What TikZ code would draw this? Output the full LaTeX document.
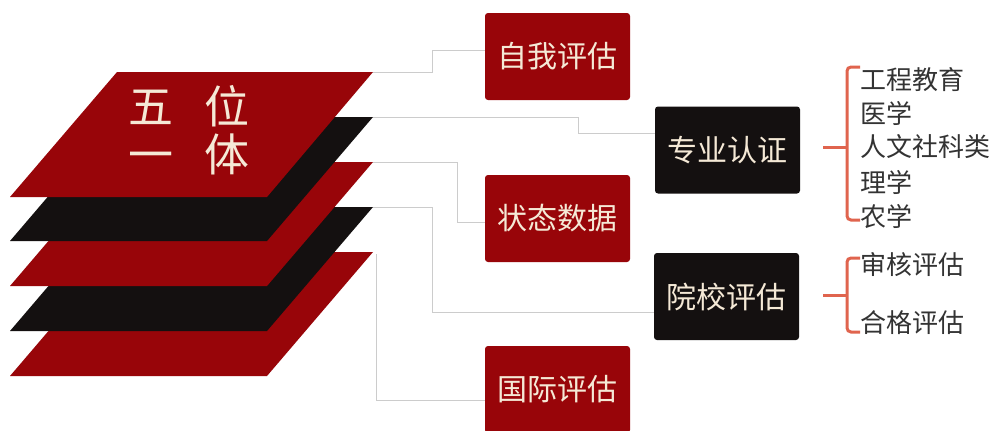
\documentclass[tikz,border=0pt]{standalone}
\usepackage{fontspec}
\newfontfamily\cjk{Noto Sans CJK SC}
\definecolor{dred}{HTML}{980509}
\definecolor{dblk}{HTML}{141010}
\definecolor{cream}{HTML}{F5E9D6}
\definecolor{conn}{HTML}{CCCCCC}
\definecolor{brk}{HTML}{E0644E}
\definecolor{itm}{HTML}{333333}
\begin{document}
\begin{tikzpicture}[x=1pt,y=-1pt,
  redbox/.style={fill=dred,rounded corners=3pt,minimum width=145pt,minimum height=87pt,inner sep=0pt,text=cream,font=\cjk\fontsize{30}{34}\selectfont},
  blkbox/.style={redbox,fill=dblk},
  connector/.style={draw=conn,line width=1pt},
  bracket/.style={draw=brk,line width=3pt,rounded corners=4pt},
  item/.style={anchor=west,inner sep=0pt,text=itm,font=\cjk\fontsize{26}{30}\selectfont},
  big/.style={inner sep=0pt,text=cream,text height=36pt,text depth=4pt,font=\cjk\fontsize{45}{50}\selectfont}]
\useasboundingbox (0,0) rectangle (1002,431);
\fill[white] (0,0) rectangle (1002,431);
% layers, bottom first
\fill[dred] (116,252) -- (373,252) -- (267,376) -- (10,376) -- cycle;
\fill[dblk] (116,207) -- (373,207) -- (267,331) -- (10,331) -- cycle;
\fill[dred] (116,162) -- (373,162) -- (267,286) -- (10,286) -- cycle;
\fill[dblk] (116,117) -- (373,117) -- (267,241) -- (10,241) -- cycle;
\fill[dred] (117,72) -- (373,72) -- (267,197) -- (10,197) -- cycle;
\coordinate (L1) at (373,72);
\coordinate (L2) at (373,117);
\coordinate (L3) at (373,162);
\coordinate (L4) at (373,207);
\coordinate (L5) at (376,254);
\node[big] (t1) at (151,107) {五};
\node[big] (t2) at (227,107) {位};
\node[big] (t3) at (151,155) {一};
\node[big] (t4) at (227,155) {体};
% boxes
\node[redbox,text depth=4pt] (b1) at (557.5,56.5) {自我评估};
\node[redbox,text depth=4pt] (b2) at (557.5,218.5) {状态数据};
\node[redbox,text depth=4pt] (b3) at (557.5,389.5) {国际评估};
\node[blkbox] (c1) at (727.5,150) {专业认证};
\node[blkbox] (c2) at (726.5,296.5) {院校评估};
% connectors
\draw[connector] (L1) -- (432,72) |- ([yshift=6pt]b1.west);
\draw[connector] (L2) -- (578,117) |- ([yshift=17pt]c1.west);
\draw[connector] (L3) -- (457,162) |- ([yshift=-3.5pt]b2.west);
\draw[connector] (L4) -- (432,207) |- ([yshift=-15.5pt]c2.west);
\draw[connector] (L5) |- ([yshift=-10.5pt]b3.west);
% brackets
\draw[bracket] (860,67) -- (847,67) -- (847,220) -- (860,220);
\draw[brk,line width=3pt] (847,147) -- (823,147);
\draw[bracket] (860,258) -- (847,258) -- (847,332) -- (860,332);
\draw[brk,line width=3pt] (847,295) -- (823,295);
% items
\node[item] (i1) at (860,80) {工程教育};
\node[item] (i2) at (860,113) {医学};
\node[item] (i3) at (860,147) {人文社科类};
\node[item] (i4) at (860,182) {理学};
\node[item] (i5) at (860,217) {农学};
\node[item] (j1) at (860,265) {审核评估};
\node[item] (j2) at (860,323) {合格评估};
\end{tikzpicture}
\end{document}
